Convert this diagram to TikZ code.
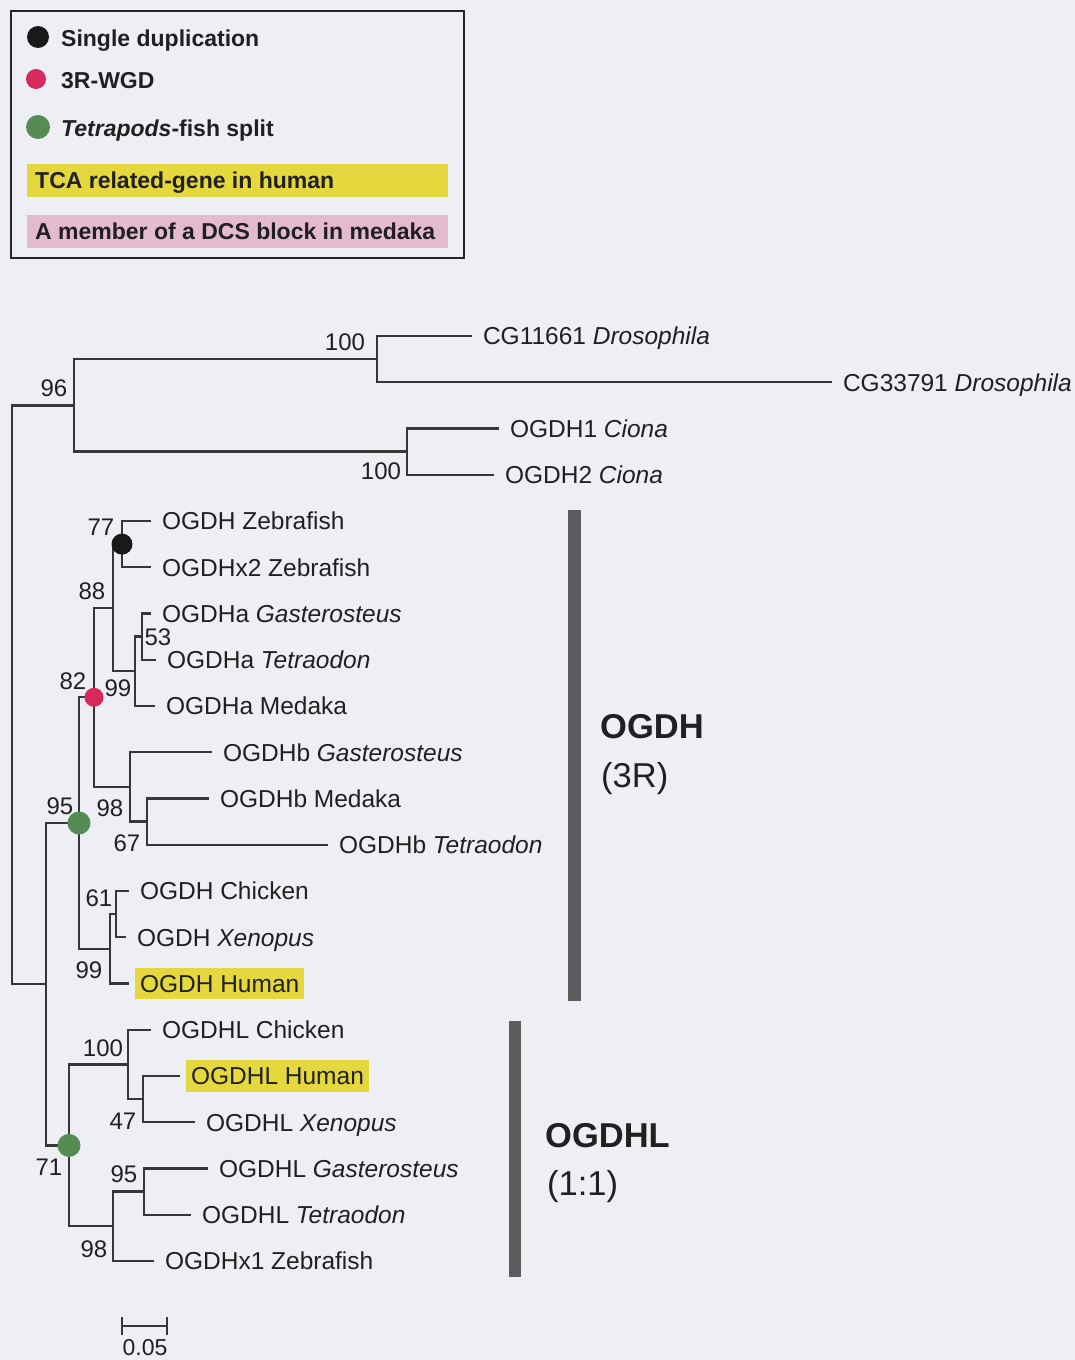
\documentclass[tikz,border=0pt]{standalone}
\usepackage{fontspec}
\setmainfont{Liberation Sans}
\definecolor{bg}{RGB}{237,239,245}
\definecolor{treec}{RGB}{55,55,55}
\definecolor{txt}{RGB}{32,32,32}
\definecolor{tcay}{RGB}{229,215,62}
\definecolor{dcsp}{RGB}{228,186,206}
\definecolor{wgdred}{RGB}{214,42,92}
\definecolor{splitg}{RGB}{84,140,84}
\definecolor{barc}{RGB}{92,92,92}
\begin{document}
\begin{tikzpicture}[x=1pt,y=-1pt,
  br/.style={draw=treec, line width=2.3pt},
  tip/.style={anchor=west, inner xsep=5pt, inner ysep=7pt, outer xsep=6pt, outer ysep=0pt,
    text height=17.6pt, text depth=0pt, font=\fontsize{24.5}{29}\selectfont, text=txt},
  hl/.style={fill=tcay},
  bs/.style={inner sep=0pt, text height=17.3pt, text depth=0pt, font=\fontsize{24}{29}\selectfont, text=txt},
  dotb/.style={circle, inner sep=0pt, minimum size=21pt, fill=black!90},
  dotr/.style={circle, inner sep=0pt, minimum size=19pt, fill=wgdred},
  dotg/.style={circle, inner sep=0pt, minimum size=23pt, fill=splitg},
  legtxt/.style={anchor=west, inner sep=0pt, text height=16.6pt, text depth=0pt,
    font=\fontsize{23}{28}\selectfont\bfseries, text=txt},
  clade/.style={anchor=west, inner sep=0pt, text height=24.8pt, text depth=0pt,
    font=\fontsize{34.5}{40}\selectfont, text=txt},
]
\useasboundingbox (0,0) rectangle (1075,1360);
\fill[bg] (0,0) rectangle (1075,1360);

% ---------- legend ----------
\draw[line width=2pt, draw=black!85] (11,11) rectangle (464,258);
\node[dotb, minimum size=22pt] (ld1) at (38,37) {};
\node[legtxt] (lt1) at (61,38) {Single duplication};
\node[dotr, minimum size=20pt] (ld2) at (36,79) {};
\node[legtxt] (lt2) at (61,80) {3R-WGD};
\node[dotg, minimum size=24pt] (ld3) at (38,127) {};
\node[legtxt] (lt3) at (61,128) {\textit{Tetrapods}-fish split};
\fill[tcay] (27,164) rectangle (448,197);
\node[legtxt] (lt4) at (35,180.5) {TCA related-gene in human};
\fill[dcsp] (27,215) rectangle (448,248);
\node[legtxt] (lt5) at (35,231.5) {A member of a DCS block in medaka};

% ---------- internal nodes ----------
\coordinate (root) at (12,694.8);
\coordinate (n96) at (74,405.4);
\coordinate (nD) at (377,359.1);
\coordinate (nC) at (407,451.6);
\coordinate (nS) at (46,984.2);
\coordinate (n95) at (79,823.0);
\coordinate (n82) at (94,697.3);
\coordinate (n88) at (113,607.7);
\coordinate (n77) at (122,544.1);
\coordinate (n99a) at (135,671.3);
\coordinate (n53) at (142,636.6);
\coordinate (n98b) at (130,786.9);
\coordinate (n67) at (147,821.6);
\coordinate (n99t) at (110,948.8);
\coordinate (n61) at (116,914.1);
\coordinate (n71) at (69,1145.4);
\coordinate (n100L) at (128,1064.4);
\coordinate (n47) at (143,1099.1);
\coordinate (n98L) at (113,1226.3);
\coordinate (n95L) at (144,1191.6);

% ---------- tips ----------
\node[tip] (t0) at (472,336) {CG11661 \textit{Drosophila}};
\node[tip] (t1) at (832,382.25) {CG33791 \textit{Drosophila}};
\node[tip] (t2) at (499,428.5) {OGDH1 \textit{Ciona}};
\node[tip] (t3) at (494,474.75) {OGDH2 \textit{Ciona}};
\node[tip] (t4) at (151,521) {OGDH Zebrafish};
\node[tip] (t5) at (151,567.25) {OGDHx2 Zebrafish};
\node[tip] (t6) at (151,613.5) {OGDHa \textit{Gasterosteus}};
\node[tip] (t7) at (156,659.75) {OGDHa \textit{Tetraodon}};
\node[tip] (t8) at (155,706) {OGDHa Medaka};
\node[tip] (t9) at (212,752.25) {OGDHb \textit{Gasterosteus}};
\node[tip] (t10) at (209,798.5) {OGDHb Medaka};
\node[tip] (t11) at (328,844.75) {OGDHb \textit{Tetraodon}};
\node[tip] (t12) at (129,891) {OGDH Chicken};
\node[tip] (t13) at (126,937.25) {OGDH \textit{Xenopus}};
\node[tip, hl] (t14) at (129,983.5) {OGDH Human};
\node[tip] (t15) at (151,1029.75) {OGDHL Chicken};
\node[tip, hl] (t16) at (180,1076) {OGDHL Human};
\node[tip] (t17) at (195,1122.25) {OGDHL \textit{Xenopus}};
\node[tip] (t18) at (208,1168.5) {OGDHL \textit{Gasterosteus}};
\node[tip] (t19) at (191,1214.75) {OGDHL \textit{Tetraodon}};
\node[tip] (t20) at (154,1261) {OGDHx1 Zebrafish};

% ---------- branches ----------
\draw[br] (root) |- (n96);
\draw[br] (root) |- (nS);
\draw[br] (n96) |- (nD);
\draw[br] (n96) |- (nC);
\draw[br] (nD) |- (t0);
\draw[br] (nD) |- (t1);
\draw[br] (nC) |- (t2);
\draw[br] (nC) |- (t3);
\draw[br] (nS) |- (n95);
\draw[br] (nS) |- (n71);
\draw[br] (n95) |- (n82);
\draw[br] (n95) |- (n99t);
\draw[br] (n82) |- (n88);
\draw[br] (n82) |- (n98b);
\draw[br] (n88) |- (n77);
\draw[br] (n88) |- (n99a);
\draw[br] (n77) |- (t4);
\draw[br] (n77) |- (t5);
\draw[br] (n99a) |- (n53);
\draw[br] (n99a) |- (t8);
\draw[br] (n53) |- (t6);
\draw[br] (n53) |- (t7);
\draw[br] (n98b) |- (t9);
\draw[br] (n98b) |- (n67);
\draw[br] (n67) |- (t10);
\draw[br] (n67) |- (t11);
\draw[br] (n99t) |- (n61);
\draw[br] (n99t) |- (t14);
\draw[br] (n61) |- (t12);
\draw[br] (n61) |- (t13);
\draw[br] (n71) |- (n100L);
\draw[br] (n71) |- (n98L);
\draw[br] (n100L) |- (t15);
\draw[br] (n100L) |- (n47);
\draw[br] (n47) |- (t16);
\draw[br] (n47) |- (t17);
\draw[br] (n98L) |- (n95L);
\draw[br] (n98L) |- (t20);
\draw[br] (n95L) |- (t18);
\draw[br] (n95L) |- (t19);

% ---------- event dots ----------
\node[dotb] (e77) at (n77) {};
\node[dotr] (e82) at (n82) {};
\node[dotg] (e95) at (n95) {};
\node[dotg] (e71) at (n71) {};

% ---------- bootstrap values ----------
\node[bs] (b1) at (345,342) {100};
\node[bs] (b2) at (54,388) {96};
\node[bs] (b3) at (381,471) {100};
\node[bs] (b4) at (101,527) {77};
\node[bs] (b5) at (92,591) {88};
\node[bs] (b6) at (158,637) {53};
\node[bs] (b7) at (73,681) {82};
\node[bs] (b8) at (118,688) {99};
\node[bs] (b9) at (60,806) {95};
\node[bs] (b10) at (110,808) {98};
\node[bs] (b11) at (127,843) {67};
\node[bs] (b12) at (99,898) {61};
\node[bs] (b13) at (89,970) {99};
\node[bs] (b14) at (103,1048) {100};
\node[bs] (b15) at (123,1121) {47};
\node[bs] (b16) at (49,1167) {71};
\node[bs] (b17) at (124,1174) {95};
\node[bs] (b18) at (94,1249) {98};

% ---------- clade bars ----------
\fill[barc] (568,510) rectangle (581,1001);
\fill[barc] (509,1021) rectangle (521,1277);
\node[clade, font=\fontsize{34.5}{40}\selectfont\bfseries] (c1) at (600,726) {OGDH};
\node[clade] (c1b) at (601,775) {(3R)};
\node[clade, font=\fontsize{34.5}{40}\selectfont\bfseries] (c2) at (545,1135) {OGDHL};
\node[clade] (c2b) at (547,1183) {(1:1)};

% ---------- scale bar ----------
\coordinate (sb1) at (122,1326);
\coordinate (sb2) at (167,1326);
\draw[br] (sb1) -- (sb2);
\draw[br] ([yshift=-9pt]sb1) -- ([yshift=9pt]sb1);
\draw[br] ([yshift=-9pt]sb2) -- ([yshift=9pt]sb2);
\node[bs, text height=16.6pt, font=\fontsize{23}{28}\selectfont] (sbl) at (145,1347) {0.05};
\end{tikzpicture}
\end{document}
